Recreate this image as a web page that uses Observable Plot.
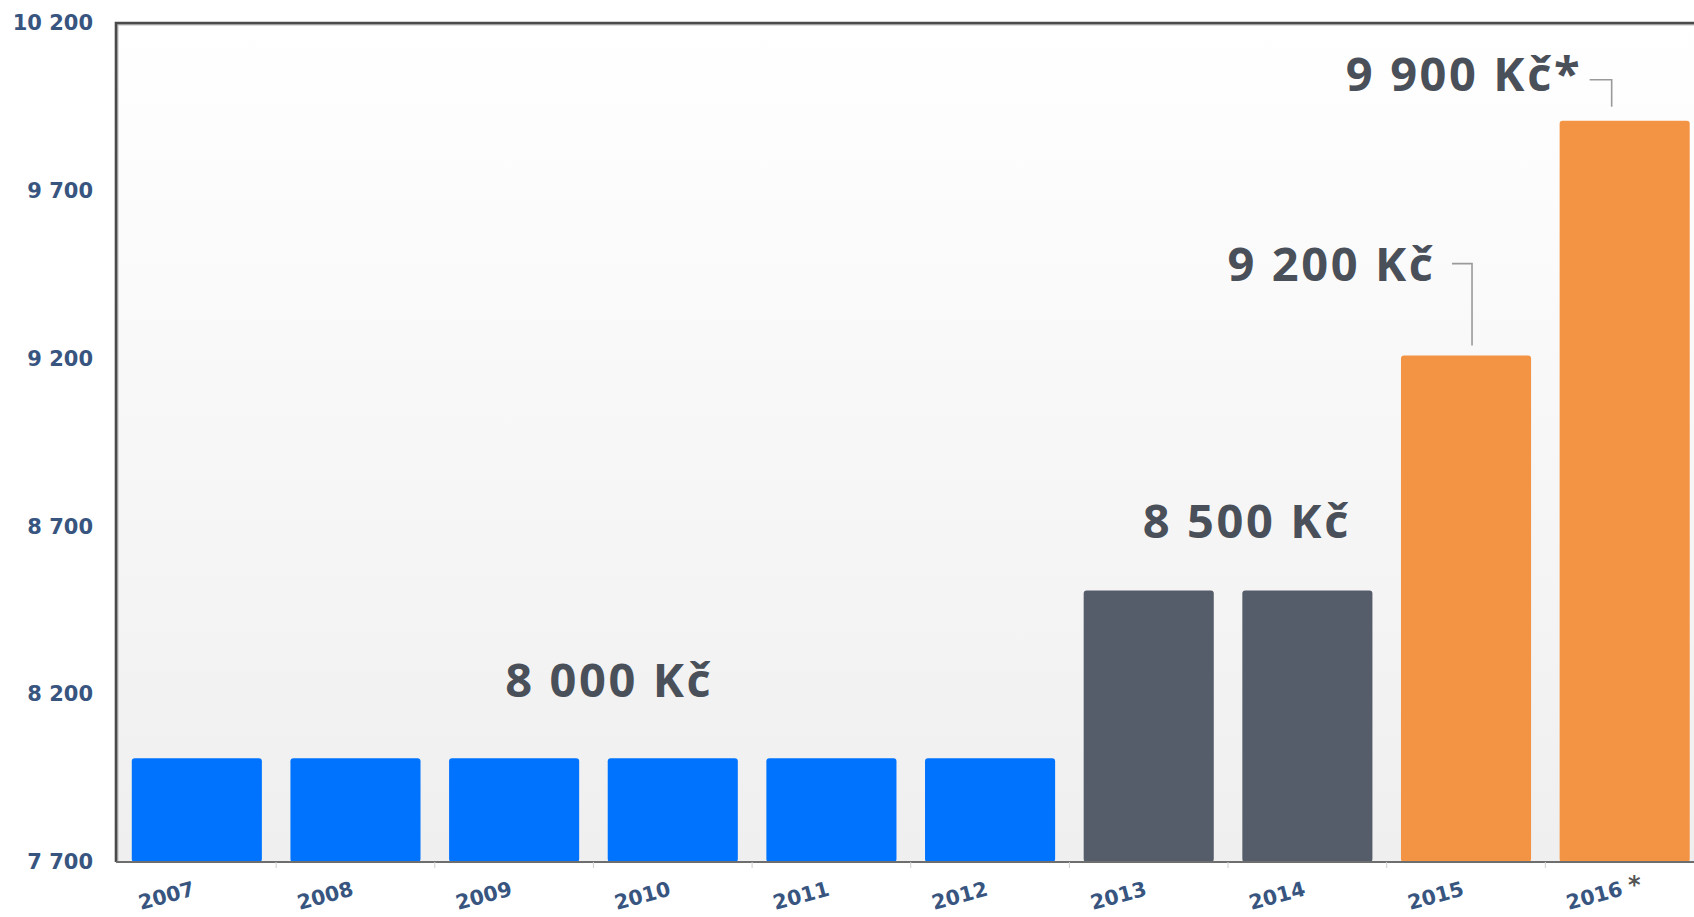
<!DOCTYPE html>
<html><head><meta charset="utf-8">
<script src="https://cdn.jsdelivr.net/npm/d3@7"></script>
<script src="https://cdn.jsdelivr.net/npm/@observablehq/plot@0.6"></script>
<style>
html,body{margin:0;padding:0;background:#fff;overflow:hidden;}
#chart svg{display:block;max-width:none;background:#fff;}
#chart svg g[font-size="47"] text{letter-spacing:2.6px;}
</style></head><body><div id="chart"></div>
<script>
const years = ["2007","2008","2009","2010","2011","2012","2013","2014","2015","2016"];
const wages = [8000,8000,8000,8000,8000,8000,8500,8500,9200,9900];
const groups = ["8 000 Kč","8 000 Kč","8 000 Kč","8 000 Kč","8 000 Kč","8 000 Kč","8 500 Kč","8 500 Kč","9 200 Kč","9 900 Kč*"];
const groupNames = ["8 000 Kč","8 500 Kč","9 200 Kč","9 900 Kč*"];
const groupColors = ["#0073fe","#545d69","#f39444","#f39444"];
const yTicks = [7700,8200,8700,9200,9700,10200];
const noteLabels = ["8 000 Kč","8 500 Kč","9 200 Kč","9 900 Kč*"];
const noteYears = ["2010","2014","2015","2016"];
const noteValues = [8000,8500,9200,9900];

const rows = years.map((y,i)=>({year:y, wage:wages[i], group:groups[i]}));
const notes = noteLabels.map((t,i)=>({label:t, year:noteYears[i], value:noteValues[i]}));
const fmt = d => d3.format(",")(d).replace(/,/g," ");

const noteOffsets = [
  {dx:-64, dy:-80, anchor:"middle"},
  {dx:-61, dy:-71, anchor:"middle"},
  {dx:-31, dy:-93, anchor:"end"},
  {dx:-43, dy:-48, anchor:"end"}
];

function bw(s){ return typeof s.bandwidth === "function" ? s.bandwidth() : (s.bandwidth || 0); }

const background = (index, scales, values, dim) => {
  const g = d3.create("svg:g");
  const defs = g.append("defs");
  const lg = defs.append("linearGradient").attr("id","bggrad").attr("x1",0).attr("y1",0).attr("x2",0).attr("y2",1);
  lg.append("stop").attr("offset","0%").attr("stop-color","#ffffff");
  lg.append("stop").attr("offset","100%").attr("stop-color","#efefef");
  g.append("rect")
    .attr("x", dim.marginLeft - 1.5).attr("y", dim.marginTop)
    .attr("width", dim.width - dim.marginLeft - dim.marginRight)
    .attr("height", dim.height - dim.marginTop - dim.marginBottom)
    .attr("fill","url(#bggrad)");
  return g.node();
};

const frameLines = (index, scales, values, dim) => {
  const g = d3.create("svg:g");
  const l = dim.marginLeft - 1.5, t = dim.marginTop, b = dim.height - dim.marginBottom, r = dim.width - dim.marginRight;
  g.append("path").attr("d", `M${l+1.5},${b}V${t+1.5}H${r}`).attr("fill","none").attr("stroke","#bdbdbd").attr("stroke-width",2);
  g.append("path").attr("d", `M${l},${b}V${t}H${r}`).attr("fill","none").attr("stroke","#4a4a4a").attr("stroke-width",2.6);
  g.append("line").attr("x1",l).attr("x2",r).attr("y1",b).attr("y2",b).attr("stroke","#6e6e6e").attr("stroke-width",1.8);
  const x = scales.x, w = bw(x);
  const step = typeof x.step === "function" ? x.step() : w;
  years.slice(1).forEach(y => {
    const xs = x(y) - (step - w)/2;
    g.append("line").attr("x1",xs).attr("x2",xs).attr("y1",b).attr("y2",b+6).attr("stroke","#cfcfcf").attr("stroke-width",1);
  });
  return g.node();
};

const connectors = (index, scales, values, dim) => {
  const g = d3.create("svg:g");
  const x = scales.x, y = scales.y, w = bw(x);
  let cx = x("2015") + w/2 + 6, ty = y(9200);
  g.append("path").attr("d", `M${cx-20},${ty-95}H${cx}V${ty-13}`).attr("fill","none").attr("stroke","#9a9a9a").attr("stroke-width",1.6);
  cx = x("2016") + w/2 - 13; ty = y(9900);
  g.append("path").attr("d", `M${cx-22},${ty-44}H${cx}V${ty-17}`).attr("fill","none").attr("stroke","#9a9a9a").attr("stroke-width",1.6);
  return g.node();
};

const noteMarks = notes.map((n,i) => Plot.text([n], {
  x: "year", y: "value", text: "label",
  dx: noteOffsets[i].dx, dy: noteOffsets[i].dy, textAnchor: noteOffsets[i].anchor,
  fontSize: 47, fontWeight: 700, fontFamily: "Open Sans", fill: "#4a5059"
}));

const chart = Plot.plot({
  width: 1694,
  height: 917,
  marginLeft: 117.5,
  marginRight: -10,
  marginTop: 23,
  marginBottom: 55,
  x: {domain: years, paddingInner: 0.18, paddingOuter: 0.09, round: false, axis: null},
  y: {domain: [7700, 10200], axis: null},
  color: {domain: groupNames, range: groupColors},
  style: {background: "#fff"},
  marks: [
    background,
    Plot.barY(rows, {x: "year", y1: 7700, y2: "wage", fill: "group", rx: 3, insetTop: -3}),
    frameLines,
    connectors,
    Plot.axisY(yTicks, {tickSize: 0, tickPadding: 25, tickFormat: fmt, fontSize: 21, fontWeight: "bold", fontFamily: "DejaVu Sans", fill: "#38557f", label: null}),
    Plot.text(years, {x: d => d, frameAnchor: "bottom", text: d => d, dx: -29, dy: 40, rotate: -15,
      fontSize: 20.5, fontWeight: "bold", fontFamily: "DejaVu Sans", fill: "#38557f"}),
    Plot.text(["2016"], {x: d => d, frameAnchor: "bottom", text: () => "*", dx: 9, dy: 30,
      fontSize: 24, fontWeight: "bold", fontFamily: "DejaVu Sans", fill: "#555"}),
    ...noteMarks
  ]
});
document.getElementById("chart").appendChild(chart);
</script></body></html>
